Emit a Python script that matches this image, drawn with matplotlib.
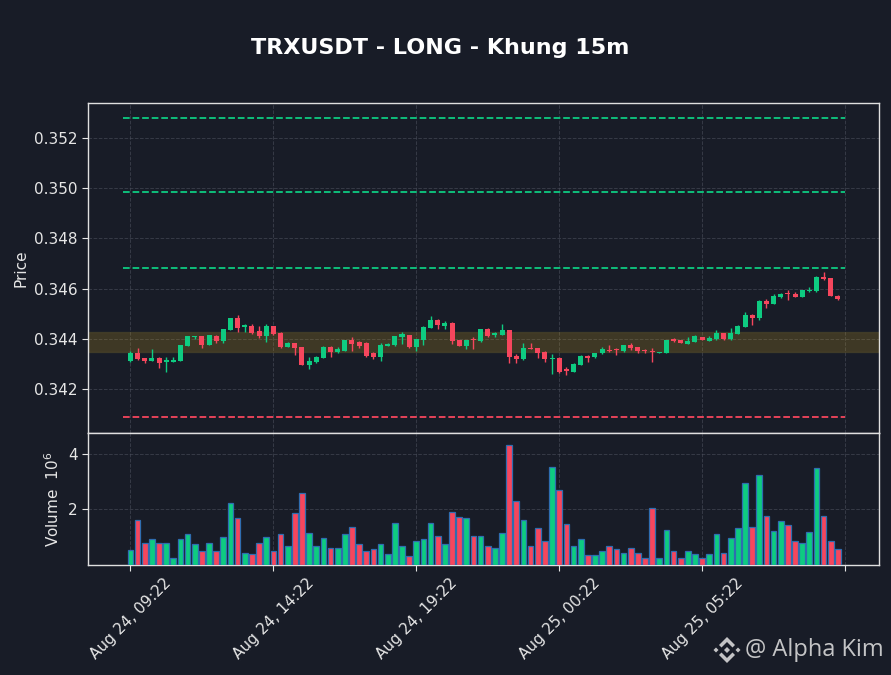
import matplotlib
matplotlib.use("Agg")
import matplotlib.pyplot as plt
from matplotlib.patches import Polygon
import numpy as np

# ---------------- data ----------------
opens = [0.34312, 0.34345, 0.34324, 0.34312, 0.34324, 0.34306, 0.34309, 0.34312, 0.34373, 0.34406,
         0.34411, 0.34376, 0.34412, 0.34391, 0.34436, 0.34482, 0.34446, 0.34451, 0.34431, 0.34412,
         0.34451, 0.34424, 0.34369, 0.34382, 0.34367, 0.34294, 0.34308, 0.34325, 0.34369, 0.34347,
         0.34353, 0.34395, 0.34386, 0.34382, 0.34342, 0.34329, 0.34373, 0.34375, 0.34406, 0.34415,
         0.34369, 0.34395, 0.34444, 0.34475, 0.34451, 0.34463, 0.34395, 0.34371, 0.34398, 0.34391,
         0.34439, 0.34415, 0.34416, 0.34435, 0.34331, 0.34318, 0.34365, 0.34363, 0.34349, 0.34321,
         0.34324, 0.34278, 0.34269, 0.34297, 0.34333, 0.34326, 0.34342, 0.34355, 0.34359, 0.34351,
         0.34375, 0.34367, 0.34357, 0.34351, 0.34345, 0.34345, 0.34398, 0.34395, 0.34380, 0.34388,
         0.34407, 0.34392, 0.34399, 0.34423, 0.34399, 0.34420, 0.34448, 0.34495, 0.34482, 0.34552,
         0.34540, 0.34568, 0.34581, 0.34580, 0.34568, 0.34592, 0.34590, 0.34646, 0.34642, 0.34571]

closes = [0.34345, 0.34320, 0.34310, 0.34324, 0.34304, 0.34314, 0.34317, 0.34375, 0.34411, 0.34411,
          0.34375, 0.34415, 0.34392, 0.34439, 0.34482, 0.34442, 0.34454, 0.34424, 0.34411, 0.34451,
          0.34418, 0.34367, 0.34382, 0.34362, 0.34296, 0.34313, 0.34329, 0.34369, 0.34347, 0.34358,
          0.34395, 0.34379, 0.34371, 0.34331, 0.34327, 0.34376, 0.34380, 0.34411, 0.34418, 0.34367,
          0.34399, 0.34448, 0.34475, 0.34455, 0.34464, 0.34391, 0.34373, 0.34395, 0.34394, 0.34439,
          0.34411, 0.34422, 0.34435, 0.34329, 0.34320, 0.34363, 0.34361, 0.34345, 0.34320, 0.34324,
          0.34269, 0.34273, 0.34300, 0.34333, 0.34324, 0.34342, 0.34361, 0.34351, 0.34357, 0.34375,
          0.34365, 0.34353, 0.34350, 0.34346, 0.34347, 0.34395, 0.34391, 0.34384, 0.34392, 0.34411,
          0.34396, 0.34403, 0.34423, 0.34399, 0.34423, 0.34452, 0.34495, 0.34484, 0.34552, 0.34540,
          0.34571, 0.34580, 0.34577, 0.34568, 0.34594, 0.34594, 0.34646, 0.34638, 0.34571, 0.34559]

highs = [0.34351, 0.34362, 0.34325, 0.34358, 0.34326, 0.34329, 0.34329, 0.34377, 0.34413, 0.34413,
         0.34413, 0.34417, 0.34415, 0.34441, 0.34484, 0.34495, 0.34459, 0.34459, 0.34452, 0.34458,
         0.34453, 0.34426, 0.34388, 0.34384, 0.34369, 0.34329, 0.34331, 0.34371, 0.34371, 0.34366,
         0.34397, 0.34406, 0.34390, 0.34388, 0.34349, 0.34384, 0.34382, 0.34413, 0.34426, 0.34417,
         0.34401, 0.34450, 0.34491, 0.34477, 0.34471, 0.34465, 0.34397, 0.34397, 0.34406, 0.34441,
         0.34443, 0.34428, 0.34459, 0.34437, 0.34339, 0.34382, 0.34384, 0.34365, 0.34351, 0.34339,
         0.34326, 0.34289, 0.34302, 0.34335, 0.34336, 0.34344, 0.34369, 0.34374, 0.34365, 0.34377,
         0.34384, 0.34369, 0.34361, 0.34365, 0.34349, 0.34397, 0.34402, 0.34397, 0.34406, 0.34415,
         0.34409, 0.34411, 0.34435, 0.34425, 0.34442, 0.34454, 0.34506, 0.34497, 0.34554, 0.34560,
         0.34577, 0.34582, 0.34594, 0.34588, 0.34596, 0.34608, 0.34651, 0.34667, 0.34644, 0.34573]

lows = [0.34308, 0.34316, 0.34302, 0.34310, 0.34284, 0.34269, 0.34307, 0.34310, 0.34371, 0.34399,
        0.34363, 0.34374, 0.34384, 0.34382, 0.34434, 0.34428, 0.34428, 0.34418, 0.34404, 0.34388,
        0.34416, 0.34365, 0.34367, 0.34335, 0.34294, 0.34278, 0.34302, 0.34323, 0.34329, 0.34342,
        0.34351, 0.34351, 0.34365, 0.34329, 0.34321, 0.34313, 0.34371, 0.34373, 0.34379, 0.34365,
        0.34353, 0.34375, 0.34442, 0.34438, 0.34438, 0.34380, 0.34371, 0.34358, 0.34358, 0.34389,
        0.34409, 0.34408, 0.34414, 0.34305, 0.34305, 0.34316, 0.34359, 0.34322, 0.34309, 0.34260,
        0.34263, 0.34255, 0.34267, 0.34295, 0.34308, 0.34322, 0.34340, 0.34346, 0.34334, 0.34349,
        0.34355, 0.34345, 0.34342, 0.34306, 0.34343, 0.34343, 0.34386, 0.34382, 0.34378, 0.34386,
        0.34394, 0.34390, 0.34397, 0.34397, 0.34397, 0.34418, 0.34446, 0.34454, 0.34475, 0.34524,
        0.34538, 0.34561, 0.34553, 0.34566, 0.34566, 0.34585, 0.34588, 0.34635, 0.34569, 0.34555]

# volume in millions (axis shows 10^6)
volumes = [0.54, 1.63, 0.81, 0.92, 0.80, 0.80, 0.27, 0.92, 1.10, 0.74,
           0.52, 0.80, 0.49, 1.02, 2.24, 1.70, 0.45, 0.40, 0.81, 1.02,
           0.52, 1.13, 0.70, 1.88, 2.60, 1.17, 0.70, 0.99, 0.63, 0.63,
           1.13, 1.38, 0.74, 0.49, 0.56, 0.77, 0.38, 1.52, 0.67, 0.31,
           0.85, 0.92, 1.52, 1.06, 0.74, 1.92, 1.74, 1.70, 1.06, 1.06,
           0.67, 0.60, 1.17, 4.32, 2.29, 1.63, 0.70, 1.35, 0.85, 3.52,
           2.70, 1.49, 0.67, 0.95, 0.35, 0.35, 0.52, 0.67, 0.56, 0.45,
           0.60, 0.42, 0.27, 2.06, 0.24, 1.25, 0.49, 0.24, 0.52, 0.38,
           0.24, 0.38, 1.13, 0.42, 0.99, 1.35, 2.95, 1.38, 3.24, 1.76,
           1.24, 1.60, 1.45, 0.88, 0.81, 1.20, 3.49, 1.76, 0.85, 0.56]

tick_positions = [0, 20, 40, 60, 80, 100]
tick_labels = ["Aug 24, 09:22", "Aug 24, 14:22", "Aug 24, 19:22",
               "Aug 25, 00:22", "Aug 25, 05:22", ""]

tp_levels = [0.34682, 0.34985, 0.35280]
sl_level = 0.34089
entry_zone = (0.34347, 0.34427)

title = "TRXUSDT - LONG - Khung 15m"

# ---------------- style ----------------
BG = "#181c27"
UP = "#0ecb81"
DOWN = "#f6465d"
TXT = "#e6e6e6"
GRID = "#4a4f5c"

plt.rcParams['font.family'] = ['DejaVu Sans']

fig = plt.figure(figsize=(8.91, 6.75), dpi=100, facecolor=BG)
W, H = 891, 675
L, R = 88, 879
axp = fig.add_axes([L / W, 1 - 433 / H, (R - L) / W, (433 - 103) / H], facecolor=BG)
axv = fig.add_axes([L / W, 1 - 565 / H, (R - L) / W, (565 - 433) / H], facecolor=BG, sharex=axp)

n = len(opens)
x = np.arange(n)
o = np.array(opens); c = np.array(closes); hi = np.array(highs); lo = np.array(lows)
colors = [UP if cc >= oo else DOWN for oo, cc in zip(o, c)]

# zone
axp.axhspan(entry_zone[0], entry_zone[1], facecolor="#c8a020", alpha=0.22,
            edgecolor="#8a7a30", linewidth=1.0, zorder=1)

# wicks
axp.vlines(x, lo, hi, colors=colors, linewidth=1.0, zorder=3)
# bodies
body_bottom = np.minimum(o, c)
body_h = np.maximum(np.abs(c - o), 0.000025)
axp.bar(x, body_h, bottom=body_bottom, width=0.7, color=colors, linewidth=0, zorder=4)

# levels
for lv in tp_levels:
    axp.hlines(lv, -1, 100, colors=UP, linestyles="--", linewidth=1.3, zorder=2)
axp.hlines(sl_level, -1, 100, colors=DOWN, linestyles="--", linewidth=1.3, zorder=2)

axp.set_xlim(-5.94, 104.75)
axp.set_ylim(0.34025, 0.35339)
axp.set_yticks([0.342, 0.344, 0.346, 0.348, 0.350, 0.352])
axp.set_yticklabels(["0.342", "0.344", "0.346", "0.348", "0.350", "0.352"])
axp.set_ylabel("Price", color=TXT, fontsize=11)
axp.tick_params(axis='x', which='both', bottom=False, labelbottom=False)

# volume
axv.bar(x, volumes, width=0.8, color=colors, edgecolor="#2f6db0", linewidth=0.9, zorder=3)
axv.set_ylim(0, max(volumes) * 1.1)
axv.set_yticks([2, 4])
axv.set_yticklabels(["2", "4"])
axv.set_ylabel("Volume  $10^{6}$", color=TXT, fontsize=11)
axv.set_xticks(tick_positions)
axv.set_xticklabels(tick_labels, rotation=45, ha="center")

for ax in (axp, axv):
    ax.grid(True, color=GRID, linestyle="--", linewidth=0.7, alpha=0.6)
    ax.set_axisbelow(True)
    for s in ax.spines.values():
        s.set_color("#e0e0e0")
        s.set_linewidth(1.0)
    ax.tick_params(colors=TXT, labelsize=11, length=4)

fig.text(440 / W, 1 - 48 / H, title, ha="center", va="center", color="white",
         fontsize=16, fontweight="bold")

# watermark: logo + text
def px(pts):
    return [(a / W, 1 - b / H) for a, b in pts]

cx, cy = 727, 650
logo_parts = [
    [(cx, cy - 3), (cx + 3, cy), (cx, cy + 3), (cx - 3, cy)],
    [(cx - 11, cy - 2.5), (cx - 8.5, cy), (cx - 11, cy + 2.5), (cx - 13.5, cy)],
    [(cx + 11, cy - 2.5), (cx + 13.5, cy), (cx + 11, cy + 2.5), (cx + 8.5, cy)],
    [(cx, cy - 13), (cx + 8, cy - 5), (cx + 5.5, cy - 2.5), (cx, cy - 8), (cx - 5.5, cy - 2.5), (cx - 8, cy - 5)],
    [(cx, cy + 13), (cx + 8, cy + 5), (cx + 5.5, cy + 2.5), (cx, cy + 8), (cx - 5.5, cy + 2.5), (cx - 8, cy + 5)],
]
for part in logo_parts:
    fig.patches.append(Polygon(px(part), closed=True, transform=fig.transFigure,
                               facecolor="#d8d8d8", edgecolor="none", alpha=0.9))
fig.text(745 / W, 1 - 650 / H, "@ Alpha Kim", ha="left", va="center", color="#d8d8d8",
         fontsize=17, family=["Open Sans", "DejaVu Sans"], alpha=0.9)

fig.savefig("out.png", dpi=100, facecolor=BG)
